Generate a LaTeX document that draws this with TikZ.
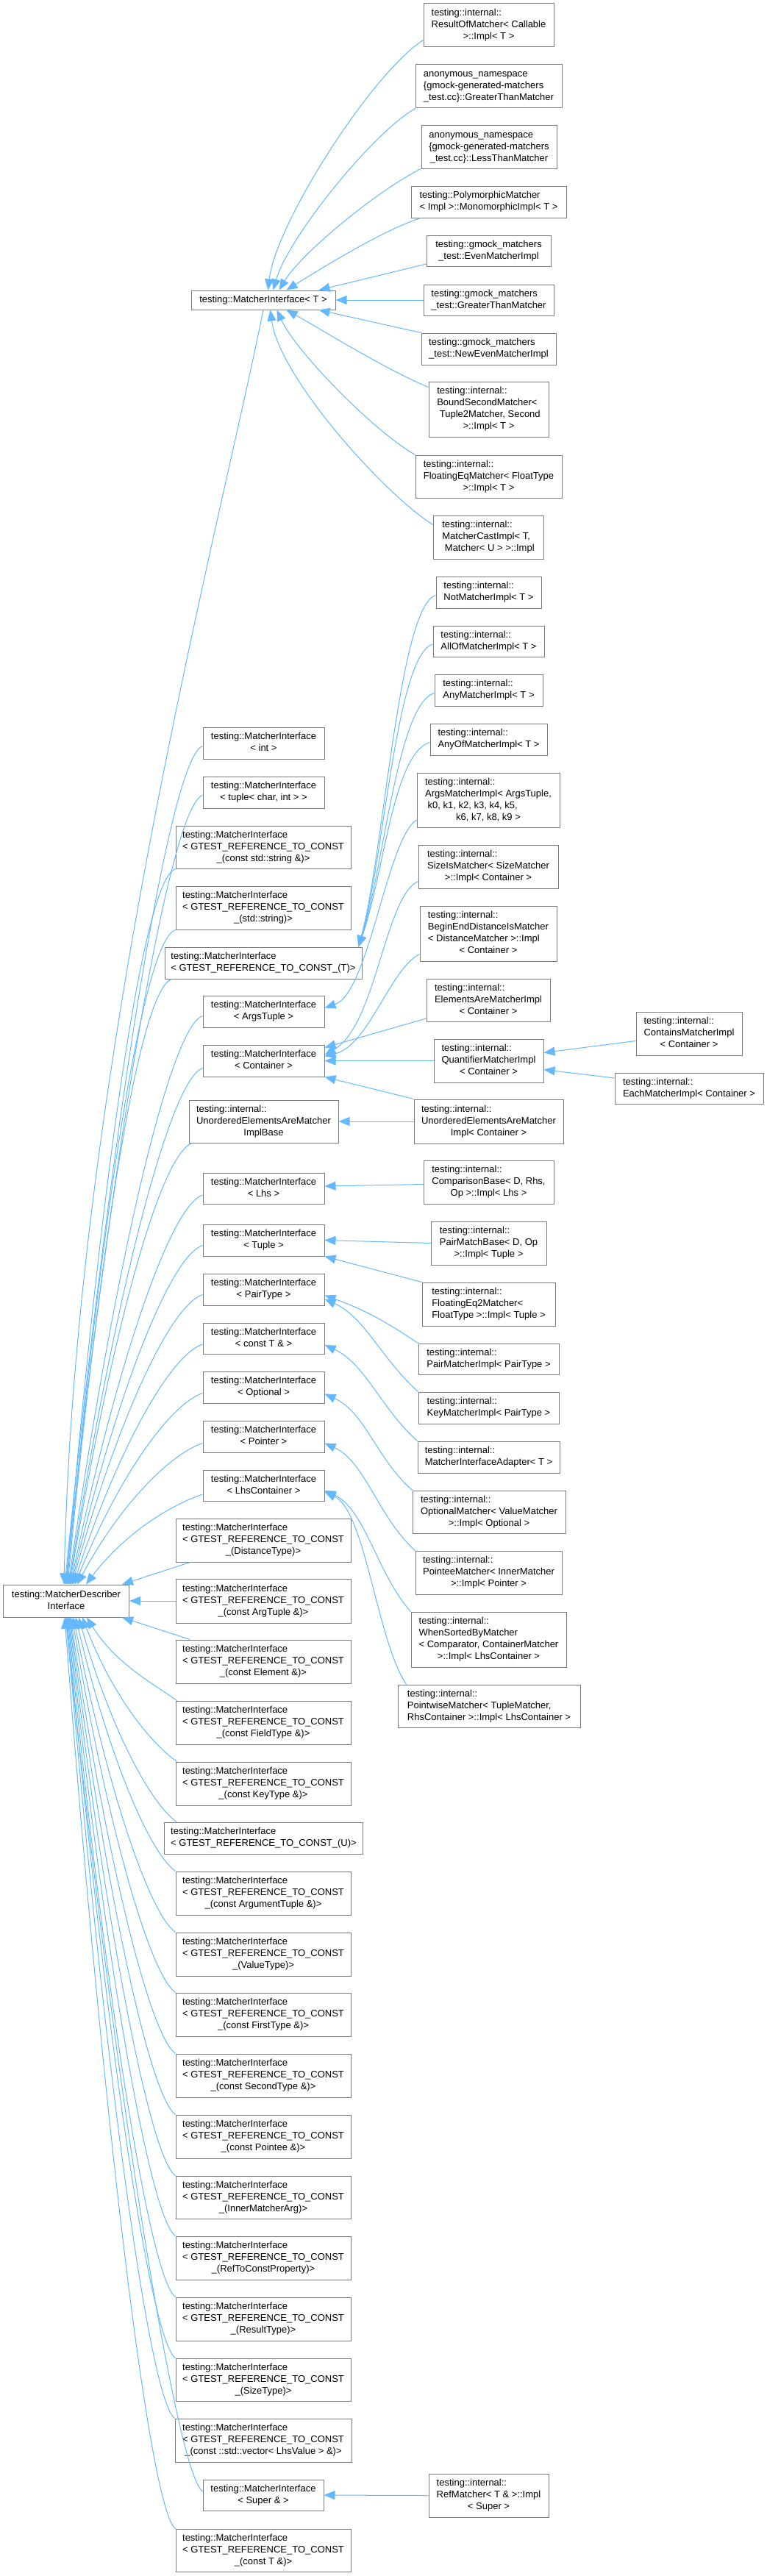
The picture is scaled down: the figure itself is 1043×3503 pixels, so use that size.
\documentclass[tikz,border=0pt]{standalone}
\usepackage{fontspec}
\setmainfont{Liberation Sans}
\usetikzlibrary{arrows.meta}
\definecolor{edgeblue}{HTML}{63B8FF}
\definecolor{boxgray}{HTML}{7A7A7A}
\newcommand{\tb}[1]{\begin{tabular}{@{}l@{}}#1\end{tabular}}
\newcommand{\lc}[1]{\multicolumn{1}{@{}c@{}}{#1}}
\newcommand{\updesc}[4]{\draw[e] (#1) .. controls +(-45,15) and +({0.45*(#2-45-#4)},{-0.55*(2155-#3)}) .. ([xshift=#4pt-5pt]desc.north west);}
\newcommand{\lowdesc}[4]{\draw[e] (#1) .. controls +(-35,-25) and +({0.45*(#2-35-#4)},{0.55*(#3-2199)}) .. ([xshift=#4pt-5pt]desc.south west);}
\tikzset{
  box/.style={draw=boxgray, line width=1pt, fill=white, inner sep=0pt, text=black,
    font=\fontsize{13}{16}\selectfont},
  bx/.style 2 args={box, minimum width=#1pt, minimum height=#2pt},
  e/.style={draw=edgeblue, line width=1pt, -{Triangle[length=15pt,width=12pt,fill=edgeblue]}}
}
\begin{document}
\begin{tikzpicture}[x=1pt,y=-1pt]
\fill[white] (0,0) rectangle (1043,3503);
\useasboundingbox (0,0) rectangle (1043,3503);

% ---------- right column: children of MatcherInterface<T>
\node[bx={177}{59}] (rom) at (664.5,34.5) {\tb{testing::internal::\\ResultOfMatcher< Callable\\\lc{>::Impl< T >}}};
\node[bx={199}{59}] (anongt) at (664.5,117.5) {\tb{anonymous\_namespace\\\{gmock-generated-matchers\\\lc{\_test.cc\}::GreaterThanMatcher}}};
\node[bx={184}{58}] (anonlt) at (665,200) {\tb{anonymous\_namespace\\\{gmock-generated-matchers\\\lc{\_test.cc\}::LessThanMatcher}}};
\node[bx={211}{43}] (poly) at (664.5,274.5) {\tb{testing::PolymorphicMatcher\\\lc{< Impl >::MonomorphicImpl< T >}}};
\node[bx={169}{42}] (even) at (664.5,341) {\tb{testing::gmock\_matchers\\\lc{\_test::EvenMatcherImpl}}};
\node[bx={177}{42}] (gtm) at (664.5,408) {\tb{testing::gmock\_matchers\\\lc{\_test::GreaterThanMatcher}}};
\node[bx={183}{43}] (neweven) at (664.5,474.5) {\tb{testing::gmock\_matchers\\\lc{\_test::NewEvenMatcherImpl}}};
\node[bx={163}{75}] (bound) at (664.5,556.5) {\tb{testing::internal::\\BoundSecondMatcher<\\\ Tuple2Matcher, Second\\\lc{>::Impl< T >}}};
\node[bx={199}{58}] (floateq) at (664.5,648) {\tb{testing::internal::\\FloatingEqMatcher< FloatType\\\lc{>::Impl< T >}}};
\node[bx={150}{59}] (cast) at (664,730.5) {\tb{testing::internal::\\MatcherCastImpl< T,\\\lc{\ Matcher< U > >::Impl}}};

% ---------- right column: other children
\node[bx={143}{43}] (notm) at (664.5,805.5) {\tb{testing::internal::\\\lc{NotMatcherImpl< T >}}};
\node[bx={151}{42}] (allof) at (664.5,872) {\tb{testing::internal::\\\lc{AllOfMatcherImpl< T >}}};
\node[bx={147}{43}] (any) at (664.5,938.5) {\tb{testing::internal::\\\lc{AnyMatcherImpl< T >}}};
\node[bx={159}{43}] (anyof) at (664.5,1005.5) {\tb{testing::internal::\\\lc{AnyOfMatcherImpl< T >}}};
\node[bx={194}{74}] (args) at (664,1088) {\tb{testing::internal::\\ArgsMatcherImpl< ArgsTuple,\\\ k0, k1, k2, k3, k4, k5,\\\lc{k6, k7, k8, k9 >}}};
\node[bx={190}{59}] (sizeis) at (664,1178.5) {\tb{testing::internal::\\SizeIsMatcher< SizeMatcher\\\lc{>::Impl< Container >}}};
\node[bx={186}{75}] (beginend) at (664,1269.5) {\tb{testing::internal::\\BeginEndDistanceIsMatcher\\< DistanceMatcher >::Impl\\\lc{< Container >}}};
\node[bx={168}{58}] (elemsare) at (664,1360) {\tb{testing::internal::\\ElementsAreMatcherImpl\\\lc{< Container >}}};
\node[bx={149}{59}] (quant) at (664.5,1442.5) {\tb{testing::internal::\\QuantifierMatcherImpl\\\lc{< Container >}}};
\node[bx={144}{59}] (contains) at (937,1405.5) {\tb{testing::internal::\\ContainsMatcherImpl\\\lc{< Container >}}};
\node[bx={202}{42}] (each) at (937,1480) {\tb{testing::internal::\\\lc{EachMatcherImpl< Container >}}};
\node[bx={203}{60}] (unordimpl) at (664.5,1525) {\tb{testing::internal::\\UnorderedElementsAreMatcher\\\lc{Impl< Container >}}};
\node[bx={177}{59}] (cmpbase) at (664.5,1607.5) {\tb{testing::internal::\\ComparisonBase< D, Rhs,\\\lc{Op >::Impl< Lhs >}}};
\node[bx={157}{59}] (pairmb) at (664.5,1690.5) {\tb{testing::internal::\\PairMatchBase< D, Op\\\lc{>::Impl< Tuple >}}};
\node[bx={181}{59}] (feq2) at (664.5,1773.5) {\tb{testing::internal::\\FloatingEq2Matcher<\\\lc{FloatType >::Impl< Tuple >}}};
\node[bx={191}{42}] (pairm) at (664.5,1848) {\tb{testing::internal::\\\lc{PairMatcherImpl< PairType >}}};
\node[bx={191}{43}] (keym) at (664.5,1914.5) {\tb{testing::internal::\\\lc{KeyMatcherImpl< PairType >}}};
\node[bx={193}{43}] (adapter) at (664.5,1981.5) {\tb{testing::internal::\\\lc{MatcherInterfaceAdapter< T >}}};
\node[bx={208}{58}] (optm) at (665,2056) {\tb{testing::internal::\\OptionalMatcher< ValueMatcher\\\lc{>::Impl< Optional >}}};
\node[bx={199}{59}] (pointee) at (664.5,2138.5) {\tb{testing::internal::\\PointeeMatcher< InnerMatcher\\\lc{>::Impl< Pointer >}}};
\node[bx={211}{75}] (whensorted) at (664.5,2229.5) {\tb{testing::internal::\\WhenSortedByMatcher\\< Comparator, ContainerMatcher\\\lc{>::Impl< LhsContainer >}}};
\node[bx={248}{58}] (pointwise) at (665,2320) {\tb{testing::internal::\\PointwiseMatcher< TupleMatcher,\\\lc{RhsContainer >::Impl< LhsContainer >}}};
\node[bx={163}{59}] (refm) at (664.5,3393.5) {\tb{testing::internal::\\RefMatcher< T \& >::Impl\\\lc{< Super >}}};

% ---------- middle column
\node[bx={196}{26}] (MIT) at (358,408) {testing::MatcherInterface< T >};
\node[bx={165}{43}] (miint) at (358.5,1010.5) {\tb{testing::MatcherInterface\\\lc{< int >}}};
\node[bx={165}{43}] (mituple) at (358.5,1077.5) {\tb{testing::MatcherInterface\\\lc{< tuple< char, int > >}}};
\node[bx={238}{58}] (gstr) at (358,1152) {\tb{testing::MatcherInterface\\< GTEST\_REFERENCE\_TO\_CONST\\\lc{\_(const std::string \&)>}}};
\node[bx={238}{59}] (gstd) at (358,1234.5) {\tb{testing::MatcherInterface\\< GTEST\_REFERENCE\_TO\_CONST\\\lc{\_(std::string)>}}};
\node[bx={268}{43}] (gT) at (358,1309.5) {\tb{testing::MatcherInterface\\\lc{< GTEST\_REFERENCE\_TO\_CONST\_(T)>}}};
\node[bx={165}{43}] (argstuple) at (358.5,1375.5) {\tb{testing::MatcherInterface\\\lc{< ArgsTuple >}}};
\node[bx={165}{43}] (container) at (358.5,1442.5) {\tb{testing::MatcherInterface\\\lc{< Container >}}};
\node[bx={203}{58}] (ubase) at (358.5,1525) {\tb{testing::internal::\\UnorderedElementsAreMatcher\\\lc{ImplBase}}};
\node[bx={165}{42}] (lhs) at (358.5,1616) {\tb{testing::MatcherInterface\\\lc{< Lhs >}}};
\node[bx={165}{43}] (tuple) at (358.5,1686.5) {\tb{testing::MatcherInterface\\\lc{< Tuple >}}};
\node[bx={165}{43}] (pairtype) at (358.5,1753.5) {\tb{testing::MatcherInterface\\\lc{< PairType >}}};
\node[bx={165}{42}] (constT) at (358.5,1820) {\tb{testing::MatcherInterface\\\lc{< const T \& >}}};
\node[bx={165}{43}] (optional) at (358.5,1886.5) {\tb{testing::MatcherInterface\\\lc{< Optional >}}};
\node[bx={165}{43}] (pointer) at (358.5,1953.5) {\tb{testing::MatcherInterface\\\lc{< Pointer >}}};
\node[bx={165}{42}] (lhscont) at (358.5,2020) {\tb{testing::MatcherInterface\\\lc{< LhsContainer >}}};
\node[bx={238}{59}] (gdist) at (358,2094.5) {\tb{testing::MatcherInterface\\< GTEST\_REFERENCE\_TO\_CONST\\\lc{\_(DistanceType)>}}};
\node[bx={238}{60}] (gargt) at (358,2177) {\tb{testing::MatcherInterface\\< GTEST\_REFERENCE\_TO\_CONST\\\lc{\_(const ArgTuple \&)>}}};
\node[bx={238}{59}] (gelem) at (358,2259.5) {\tb{testing::MatcherInterface\\< GTEST\_REFERENCE\_TO\_CONST\\\lc{\_(const Element \&)>}}};
\node[bx={238}{59}] (gfield) at (358,2342.5) {\tb{testing::MatcherInterface\\< GTEST\_REFERENCE\_TO\_CONST\\\lc{\_(const FieldType \&)>}}};
\node[bx={238}{59}] (gkey) at (358,2425.5) {\tb{testing::MatcherInterface\\< GTEST\_REFERENCE\_TO\_CONST\\\lc{\_(const KeyType \&)>}}};
\node[bx={270}{43}] (gU) at (358.5,2499.5) {\tb{testing::MatcherInterface\\\lc{< GTEST\_REFERENCE\_TO\_CONST\_(U)>}}};
\node[bx={238}{59}] (gargtup) at (358,2574.5) {\tb{testing::MatcherInterface\\< GTEST\_REFERENCE\_TO\_CONST\\\lc{\_(const ArgumentTuple \&)>}}};
\node[bx={238}{59}] (gval) at (358,2657.5) {\tb{testing::MatcherInterface\\< GTEST\_REFERENCE\_TO\_CONST\\\lc{\_(ValueType)>}}};
\node[bx={238}{59}] (gfirst) at (358,2739.5) {\tb{testing::MatcherInterface\\< GTEST\_REFERENCE\_TO\_CONST\\\lc{\_(const FirstType \&)>}}};
\node[bx={238}{59}] (gsecond) at (358,2822.5) {\tb{testing::MatcherInterface\\< GTEST\_REFERENCE\_TO\_CONST\\\lc{\_(const SecondType \&)>}}};
\node[bx={238}{59}] (gpointee) at (358,2905.5) {\tb{testing::MatcherInterface\\< GTEST\_REFERENCE\_TO\_CONST\\\lc{\_(const Pointee \&)>}}};
\node[bx={238}{58}] (ginner) at (358,2988) {\tb{testing::MatcherInterface\\< GTEST\_REFERENCE\_TO\_CONST\\\lc{\_(InnerMatcherArg)>}}};
\node[bx={238}{59}] (gref) at (358,3070.5) {\tb{testing::MatcherInterface\\< GTEST\_REFERENCE\_TO\_CONST\\\lc{\_(RefToConstProperty)>}}};
\node[bx={238}{59}] (gresult) at (358,3153.5) {\tb{testing::MatcherInterface\\< GTEST\_REFERENCE\_TO\_CONST\\\lc{\_(ResultType)>}}};
\node[bx={238}{58}] (gsize) at (358,3236) {\tb{testing::MatcherInterface\\< GTEST\_REFERENCE\_TO\_CONST\\\lc{\_(SizeType)>}}};
\node[bx={240}{59}] (gvec) at (358,3318.5) {\tb{testing::MatcherInterface\\< GTEST\_REFERENCE\_TO\_CONST\\\lc{\_(const ::std::vector< LhsValue > \&)>}}};
\node[bx={164}{42}] (super) at (358,3393) {\tb{testing::MatcherInterface\\\lc{< Super \& >}}};
\node[bx={238}{58}] (gcT) at (358,3468) {\tb{testing::MatcherInterface\\< GTEST\_REFERENCE\_TO\_CONST\\\lc{\_(const T \&)>}}};

% ---------- root
\node[bx={171}{44}] (desc) at (90,2177) {\tb{testing::MatcherDescriber\\\lc{Interface}}};

% ---------- edges into MatcherInterface<T>
\draw[e] ([yshift=-20pt]rom.west) .. controls +(-70,45) and +(10,-90) .. ([xshift=105pt]MIT.north west);
\draw[e] (anongt.south west) .. controls +(-60,35) and +(20,-70) .. ([xshift=112pt]MIT.north west);
\draw[e] (anonlt.south west) .. controls +(-60,30) and +(30,-50) .. ([xshift=120pt]MIT.north west);
\draw[e] ([xshift=14pt]poly.south west) .. controls +(-50,15) and +(40,-25) .. ([xshift=130pt]MIT.north west);
\draw[e] ([yshift=-18pt]even.west) -- ([xshift=-23pt]MIT.north east);
\draw[e] (gtm.west) -- (MIT.east);
\draw[e] (neweven.north west) -- ([xshift=-23pt]MIT.south east);
\draw[e] ([yshift=-8pt]bound.north west) .. controls +(-60,-25) and +(45,25) .. ([xshift=130pt]MIT.south west);
\draw[e] (floateq.north west) .. controls +(-60,-35) and +(25,55) .. ([xshift=117pt]MIT.south west);
\draw[e] ([yshift=-13pt]cast.north west) .. controls +(-70,-45) and +(12,90) .. ([xshift=108pt]MIT.south west);

% ---------- edges into GTEST_(T)
\draw[e] ([yshift=-4pt]notm.west) .. controls +(-50,15) and +(35,-130) .. ([xshift=-5pt]gT.north east);
\draw[e] ([yshift=-4pt]allof.west) .. controls +(-50,15) and +(35,-120) .. ([xshift=-5pt]gT.north east);
\draw[e] ([yshift=-4pt]any.west) .. controls +(-50,15) and +(35,-110) .. ([xshift=-5pt]gT.north east);
\draw[e] ([yshift=-4pt]anyof.west) .. controls +(-50,15) and +(35,-100) .. ([xshift=-5pt]gT.north east);

% ---------- other right-side edges
\draw[e] ([yshift=-27pt]args.west) .. controls +(-40,25) and +(60,-20) .. ([yshift=5pt]argstuple.east);
\draw[e] ([yshift=-20pt]sizeis.west) .. controls +(-45,20) and +(70,-40) .. ([yshift=8pt]container.east);
\draw[e] ([yshift=-28pt]beginend.west) .. controls +(-40,20) and +(60,-15) .. ([yshift=6pt]container.east);
\draw[e] ([yshift=-25pt]elemsare.west) -- ([yshift=18pt]container.east);
\draw[e] (quant.west) -- (container.east);
\draw[e] (unordimpl.north west) -- (container.south east);
\draw[e] (unordimpl.west) -- (ubase.east);
\draw[e] ([yshift=-10pt]contains.west) -- ([yshift=11pt]quant.east);
\draw[e] ([yshift=14pt]each.west) -- ([yshift=-12pt]quant.east);
\draw[e] ([yshift=-3pt]cmpbase.west) -- ([yshift=3pt]lhs.east);
\draw[e] (pairmb.west) -- (tuple.east);
\draw[e] (feq2.north west) -- (tuple.south east);
\draw[e] (pairm.north west) .. controls +(-45,-30) and +(55,20) .. ([yshift=-8pt]pairtype.east);
\draw[e] (keym.north west) .. controls +(-50,-45) and +(55,25) .. ([yshift=-13pt]pairtype.east);
\draw[e] (adapter.north west) .. controls +(-50,-45) and +(55,25) .. ([yshift=-9pt]constT.east);
\draw[e] (optm.north west) .. controls +(-50,-45) and +(55,25) .. ([yshift=-9pt]optional.east);
\draw[e] (pointee.north west) .. controls +(-50,-45) and +(55,25) .. ([yshift=-9pt]pointer.east);
\draw[e] (whensorted.north west) .. controls +(-45,-50) and +(55,25) .. ([yshift=-7pt]lhscont.east);
\draw[e] ([xshift=12pt]pointwise.north west) .. controls +(-40,-60) and +(55,25) .. ([yshift=-9pt]lhscont.east);
\draw[e] (refm.west) -- (super.east);

% ---------- edges into MatcherDescriberInterface
\draw[e] (MIT.south) .. controls +(-60,300) and +(15,-700) .. ([xshift=83pt]desc.north west);
\updesc{[yshift=-4pt]miint.west}{276}{1015}{89}
\updesc{[yshift=-4pt]mituple.west}{276}{1082}{90}
\updesc{gstr.south west}{239}{1181}{91}
\updesc{gstd.south west}{239}{1264}{92}
\updesc{[xshift=10pt]gT.south west}{234}{1331}{93}
\updesc{[yshift=-6pt]argstuple.west}{276}{1382}{94}
\updesc{[yshift=-10pt]container.west}{276}{1453}{95}
\updesc{[xshift=5pt]ubase.south west}{262}{1554}{96}
\updesc{[yshift=-9pt]lhs.west}{276}{1625}{97}
\updesc{[yshift=-7pt]tuple.west}{276}{1693}{98}
\updesc{[yshift=-7pt]pairtype.west}{276}{1760}{99}
\updesc{[yshift=-8pt]constT.west}{276}{1828}{101}
\updesc{[yshift=-8pt]optional.west}{276}{1895}{103}
\updesc{[yshift=-9pt]pointer.west}{276}{1963}{106}
\updesc{[yshift=-12pt]lhscont.west}{276}{2032}{118}
\draw[e] ([xshift=20pt]gdist.south west) -- ([xshift=-10pt]desc.north east);
\draw[e] (gargt.west) -- (desc.east);
\draw[e] ([xshift=20pt]gelem.north west) -- ([xshift=-10pt]desc.south east);
\lowdesc{[xshift=2pt]gfield.north west}{241}{2313}{119}
\lowdesc{[xshift=2pt]gkey.north west}{241}{2396}{113}
\lowdesc{[xshift=17pt]gU.north west}{241}{2478}{108}
\lowdesc{gargtup.north west}{239}{2545}{104}
\lowdesc{gval.north west}{239}{2628}{101}
\lowdesc{gfirst.north west}{239}{2710}{99}
\lowdesc{gsecond.north west}{239}{2793}{97}
\lowdesc{gpointee.north west}{239}{2876}{96}
\lowdesc{ginner.north west}{239}{2959}{95}
\lowdesc{gref.north west}{239}{3041}{94}
\lowdesc{gresult.north west}{239}{3124}{93}
\lowdesc{gsize.north west}{239}{3207}{92}
\lowdesc{gvec.north west}{238}{3289}{91}
\lowdesc{[yshift=5pt]super.west}{276}{3388}{90}
\lowdesc{gcT.north west}{239}{3439}{89}
\end{tikzpicture}
\end{document}
